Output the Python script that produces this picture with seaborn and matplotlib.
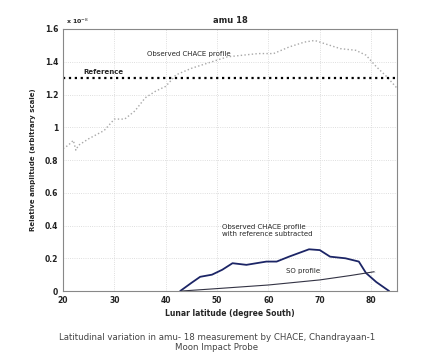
import numpy as np
import pandas as pd
import seaborn as sns
import matplotlib.pyplot as plt

# values (y in units of the x10 multiplier)
obs_lat = [20, 21, 22, 22.5, 23, 25, 28, 30, 32, 34, 36, 38, 40, 42, 45, 48, 52, 55, 58, 61, 64, 67, 69, 71, 74, 77, 79, 81, 83, 85]
obs_amp = [0.87, 0.89, 0.92, 0.86, 0.89, 0.93, 0.98, 1.05, 1.05, 1.10, 1.18, 1.22, 1.25, 1.32, 1.36, 1.39, 1.43, 1.44, 1.45, 1.45, 1.49, 1.52, 1.53, 1.51, 1.48, 1.47, 1.44, 1.37, 1.31, 1.24]

sub_lat = [42.8, 45, 46.7, 49, 51, 53, 55.7, 59.6, 61.6, 64, 67.9, 70, 72, 75, 77.6, 79, 81, 83.5]
sub_amp = [0.0, 0.05, 0.087, 0.10, 0.13, 0.17, 0.16, 0.18, 0.18, 0.21, 0.255, 0.25, 0.21, 0.20, 0.18, 0.11, 0.055, 0.0]

so_lat = [43, 50, 60, 70, 76, 81]
so_amp = [0.0, 0.015, 0.037, 0.068, 0.095, 0.12]

reference_level = 1.3
xticks = [20, 30, 40, 50, 60, 70, 80]
yticks = [0, 0.2, 0.4, 0.6, 0.8, 1, 1.2, 1.4, 1.6]

obs = pd.DataFrame({"lat": obs_lat, "amp": obs_amp})
sub = pd.DataFrame({"lat": sub_lat, "amp": sub_amp})
so = pd.DataFrame({"lat": so_lat, "amp": so_amp})

sns.set_style("white")
plt.rcParams['font.family'] = ['DejaVu Sans']

fig = plt.figure(figsize=(4.29, 3.58), dpi=100)
ax = fig.add_axes([0.147, 0.187, 0.778, 0.732])

sns.lineplot(data=obs, x="lat", y="amp", ax=ax, color="#a8a8a8", ls=":", lw=1.0)
sns.lineplot(data=sub, x="lat", y="amp", ax=ax, color="#1c2566", lw=1.3)
sns.lineplot(data=so, x="lat", y="amp", ax=ax, color="#333344", lw=0.8, marker="+", ms=3, markevery=[len(so_lat) - 1])
ax.axhline(reference_level, color="k", ls=":", lw=1.6)

ax.set_xlim(20, 85)
ax.set_ylim(0, 1.6)
ax.set_xticks(xticks)
ax.set_yticks(yticks)
ax.set_yticklabels([("%g" % v) for v in yticks])
ax.tick_params(direction="in", labelsize=5.5, length=3, colors="#222222")
for lab in ax.get_xticklabels() + ax.get_yticklabels():
    lab.set_fontweight("bold")
ax.grid(True, color="#d4d4d4", ls=":", lw=0.6)
for s in ax.spines.values():
    s.set_color("#888888")
    s.set_linewidth(0.8)

ax.set_xlabel("Lunar latitude (degree South)", fontsize=5.5, fontweight="bold", labelpad=3)
ax.set_ylabel("Relative amplitude (arbitrary scale)", fontsize=5, fontweight="bold", labelpad=6)
ax.set_title("amu 18", fontsize=6, fontweight="bold", pad=4)
ax.text(20.5, 1.62, "x 10$^{-8}$", fontsize=4.5, fontweight="bold", ha="left", va="bottom")

ax.text(24, 1.32, "Reference", fontsize=5, fontweight="bold", ha="left", va="bottom")
ax.text(44.5, 1.45, "Observed CHACE profile", fontsize=5, ha="center", va="center")
ax.text(51, 0.37, "Observed CHACE profile\nwith reference subtracted", fontsize=5, ha="left", va="center", linespacing=1.3)
ax.text(63.5, 0.125, "SO profile", fontsize=5, ha="left", va="center")

fig.text(0.505, 0.058, "Latitudinal variation in amu- 18 measurement by CHACE, Chandrayaan-1", fontsize=6.2, color="#444444", ha="center", va="center")
fig.text(0.505, 0.028, "Moon Impact Probe", fontsize=6.2, color="#444444", ha="center", va="center")

fig.savefig("out.png", dpi=100)
